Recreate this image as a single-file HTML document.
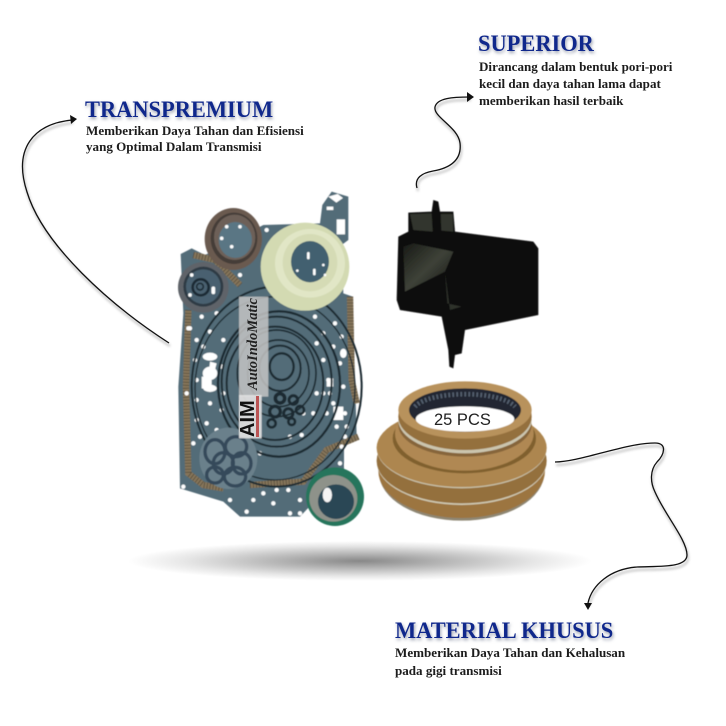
<!DOCTYPE html>
<html><head><meta charset="utf-8">
<style>
html,body{margin:0;padding:0;background:#fff}
#p{position:relative;width:726px;height:726px;overflow:hidden;background:#fff}
svg{position:absolute;left:0;top:0}
.h,.b{position:absolute;font-family:"Liberation Serif",serif;font-weight:bold;white-space:nowrap;transform-origin:0 0}
.h{color:#10288c;font-size:23px;line-height:28px;transform:scaleX(.975);text-shadow:1px 2px 3px rgba(70,80,110,.55)}
.b{color:#1c1c1c;font-size:13.07px;line-height:16px}
</style></head><body><div id="p">
<svg width="726" height="726" viewBox="0 0 726 726">
<defs>
<radialGradient id="sh" cx=".5" cy=".5" r=".5"><stop offset="0" stop-color="#888"/><stop offset=".35" stop-color="#b4b4b4"/><stop offset=".75" stop-color="#e6e6e6"/><stop offset="1" stop-color="#fff"/></radialGradient>
<linearGradient id="flt" x1="0" y1="0" x2="1" y2="1"><stop offset="0" stop-color="#181a16"/><stop offset=".5" stop-color="#3e4238"/><stop offset="1" stop-color="#111"/></linearGradient>
<filter id="s" x="-5%" y="-5%" width="110%" height="110%"><feGaussianBlur stdDeviation="1.6"/></filter>
<filter id="ls" x="-10%" y="-10%" width="120%" height="120%"><feGaussianBlur stdDeviation="1.2"/></filter>
</defs>

<ellipse cx="360" cy="561" rx="232" ry="20" fill="url(#sh)"/>

<!-- gasket -->
<g transform="translate(160,180) scale(.33333)" filter="url(#s)">
<path d="M62 222L95 205L135 225L310 135L480 130L487 75L515 35L565 50L565 180L545 195L550 340L578 350L590 770L552 780L552 870L420 1010L240 1010L190 965L60 925L55 620L70 400L65 290Z" fill="#536c78"/>
<path d="M100 225L165 240L240 315M85 390L78 620L85 880L130 915L190 925M270 915L430 905L500 810L595 770M570 350L575 600L590 670" fill="none" stroke="#85755a" stroke-width="19"/>
<path d="M100 225L165 240L240 315M85 390L78 620L85 880L130 915L190 925M270 915L430 905L500 810L595 770M570 350L575 600L590 670" fill="none" stroke="#4c4436" stroke-width="19" stroke-dasharray="2 7"/>
<path d="M90 445h0M125 410h0M170 400h0M150 455h0M110 480h0M130 500h0M105 540h0M110 600h0M190 480h0M185 560h0M190 640h0M110 660h0M150 670h0M185 690h0M110 720h0M140 730h0M170 750h0M465 410h0M525 430h0M490 460h0M545 470h0M470 490h0M520 500h0M490 540h0M540 550h0M505 600h0M550 620h0M520 670h0M555 700h0M530 740h0M555 770h0M570 825h0M560 855h0M210 960h0M260 995h0M390 1000h0M420 1000h0M70 920h0M320 150h0M385 930h0M460 920h0M240 285h0M85 445h0M145 800h0M120 770h0M460 700h0M470 640h0M430 700h0M300 820h0M390 770h0M425 765h0M500 700h0M510 640h0M490 640h0M100 790h0M80 640h0M560 740h0M545 800h0M540 850h0M350 930h0M310 940h0M420 960h0M280 960h0M340 970h0" fill="none" stroke="#fff" stroke-width="13" stroke-linecap="round"/>
<path d="M500 80h20v10h-20zM530 118h25v45h-25zM505 50l28-8 16 12-20 14zM150 545l20 5-8 30-15-5zM125 590l30 0 0 40-30-5zM520 680h30v40h-30zM500 595h20v25h-20z" fill="#fff"/>
<g fill="#fff"><ellipse cx="150" cy="530" rx="22" ry="12"/><ellipse cx="150" cy="580" rx="22" ry="20"/><ellipse cx="150" cy="625" rx="20" ry="11"/><ellipse cx="550" cy="520" rx="10" ry="14"/></g>
<g fill="none" stroke="#1b2b31">
<ellipse cx="350" cy="620" rx="255" ry="300" stroke-width="6"/>
<ellipse cx="345" cy="625" rx="240" ry="275" stroke-width="4"/>
<ellipse cx="357" cy="612" rx="183" ry="218" stroke-width="7"/>
<ellipse cx="350" cy="605" rx="165" ry="195" stroke-width="6"/>
<ellipse cx="345" cy="610" rx="145" ry="170" stroke-width="6"/>
<ellipse cx="350" cy="580" rx="118" ry="130" stroke-width="5"/>
<ellipse cx="355" cy="580" rx="92" ry="100" stroke-width="5"/>
<ellipse cx="360" cy="565" rx="62" ry="68" stroke-width="6"/>
<ellipse cx="365" cy="560" rx="36" ry="40" stroke-width="7"/>
<circle cx="345" cy="695" r="16" stroke-width="10"/><circle cx="385" cy="700" r="14" stroke-width="9"/><circle cx="360" cy="655" r="14" stroke-width="11"/><circle cx="400" cy="660" r="13" stroke-width="9"/><circle cx="335" cy="730" r="12" stroke-width="8"/><circle cx="395" cy="725" r="10" stroke-width="8"/><circle cx="420" cy="690" r="12" stroke-width="8"/>
</g>
<!-- brown seal -->
<ellipse cx="220" cy="177" rx="86" ry="93" fill="#6a5a50"/>
<ellipse cx="222" cy="175" rx="70" ry="77" fill="#453c37"/>
<ellipse cx="224" cy="172" rx="62" ry="68" fill="#6d6058"/>
<ellipse cx="226" cy="180" rx="50" ry="54" fill="#5a7684"/>
<path d="M185 175h0M200 140h0M240 140h0M215 200h0" stroke="#fff" stroke-width="11" stroke-linecap="round"/>
<!-- blue seal -->
<circle cx="130" cy="322" r="76" fill="#5e6469"/>
<circle cx="130" cy="320" r="60" fill="#2f3b44"/>
<circle cx="130" cy="320" r="52" fill="#486170"/>
<circle cx="122" cy="322" r="24" fill="none" stroke="#1d2c34" stroke-width="8"/>
<circle cx="120" cy="320" r="10" fill="none" stroke="#1d2c34" stroke-width="5"/>
<path d="M160 325v12M95 285h0M90 345h0" stroke="#fff" stroke-width="11" stroke-linecap="round"/>
<!-- pale seal -->
<ellipse cx="435" cy="260" rx="133" ry="132" fill="#d3dab2"/>
<ellipse cx="450" cy="250" rx="105" ry="103" fill="#e1e6c6"/>
<ellipse cx="450" cy="248" rx="82" ry="86" fill="#d5dbb5"/>
<ellipse cx="450" cy="245" rx="57" ry="62" fill="#436170"/>
<path d="M445 220v14M463 270v12M412 272h0M495 285h0M490 255h0" stroke="#fff" stroke-width="8" stroke-linecap="round"/>
<!-- o-rings -->
<ellipse cx="205" cy="835" rx="87" ry="92" fill="#6a808b"/>
<g fill="none" stroke="#34485a" stroke-width="10">
<ellipse cx="165" cy="815" rx="30" ry="36"/><ellipse cx="228" cy="800" rx="32" ry="30"/><ellipse cx="190" cy="850" rx="30" ry="32"/><ellipse cx="245" cy="850" rx="28" ry="32"/><ellipse cx="225" cy="890" rx="32" ry="28"/><ellipse cx="165" cy="885" rx="25" ry="24"/>
</g>
<!-- green seal -->
<ellipse cx="525" cy="950" rx="87" ry="88" fill="#26755b"/>
<ellipse cx="520" cy="955" rx="72" ry="70" fill="#8e928a"/>
<ellipse cx="528" cy="965" rx="54" ry="52" fill="#2a4654"/>
<ellipse cx="502" cy="945" rx="14" ry="22" fill="#f4f4f4"/>
<!-- watermark -->
<rect x="237" y="350" width="88" height="300" fill="#c4c4c4" opacity=".85"/>
<rect x="237" y="645" width="68" height="130" fill="#dedede" opacity=".95"/>
</g>
<text transform="translate(257,390) rotate(-90)" font-family="Liberation Serif,serif" font-style="italic" font-weight="bold" font-size="15" fill="#222" textLength="92" lengthAdjust="spacingAndGlyphs">AutoIndoMatic</text>
<text transform="translate(254,437) rotate(-90)" font-family="Liberation Sans,sans-serif" font-weight="bold" font-size="20" fill="#111">AIM</text>
<rect x="256" y="396" width="3" height="41" fill="#b55"/>

<!-- filter -->
<g transform="translate(370,190) scale(.33333)" filter="url(#s)">
<path d="M85 140L115 125L115 68L185 65L190 30L205 35L210 65L250 65L255 125L490 155L505 175L505 375L285 420L275 490L255 495L250 535L238 530L235 480L215 380L90 360L80 330Z" fill="#0c0c0c"/>
<path d="M130 160L250 185L225 245L105 305L100 170Z" fill="url(#flt)"/>
<path d="M120 72L185 70L188 125L130 120ZM212 72L248 72L250 125L214 122Z" fill="#33362f"/>
<path d="M225 245L232 340L275 350L240 360Z" fill="#2e302a"/>
</g>

<!-- clutch -->
<g transform="translate(370,190) scale(.33333)" filter="url(#s)">
<ellipse cx="275" cy="848" rx="248" ry="144" fill="#8e8672"/>
<ellipse cx="275" cy="842" rx="250" ry="142" fill="#9c7440"/>
<ellipse cx="275" cy="815" rx="255" ry="130" fill="#cfc9b2"/>
<ellipse cx="275" cy="812" rx="255" ry="128" fill="#94703c"/>
<ellipse cx="275" cy="775" rx="255" ry="120" fill="#c9c2aa"/>
<ellipse cx="275" cy="773" rx="255" ry="118" fill="#ad8650"/>
<ellipse cx="283" cy="745" rx="215" ry="105" fill="#80602f"/>
<ellipse cx="283" cy="730" rx="208" ry="112" fill="#b08852"/>
<ellipse cx="285" cy="705" rx="200" ry="95" fill="#86653a"/>
<ellipse cx="285" cy="690" rx="200" ry="100" fill="#cbc5ae"/>
<ellipse cx="285" cy="680" rx="200" ry="100" fill="#94703c"/>
<ellipse cx="285" cy="660" rx="200" ry="86" fill="#b8925c"/>
<ellipse cx="285" cy="660" rx="168" ry="65" fill="#232831"/>
<path d="M135 650C180 600 390 600 435 650" fill="none" stroke="#556070" stroke-width="14" stroke-dasharray="5 7"/>
<ellipse cx="285" cy="687" rx="148" ry="38" fill="#fff"/>
</g>
<text x="434" y="425" font-family="Liberation Sans,sans-serif" font-size="16.5" fill="#222">25 PCS</text>

<!-- connector shadows -->
<g fill="none" stroke="#888" stroke-width="2" opacity=".5" filter="url(#ls)" transform="translate(1,3)">
<path d="M417 188C414 178 422 173 433 171C450 168 462 160 460 143C458 127 433 117 435 107C437 98 453 97 470 97"/>
<path d="M169 343C110 305 43 245 27 192C13 149 33 124 72 120"/>
<path d="M555 462C580 462 625 443 655 443C668 443 664 455 657 462C650 470 650 482 655 492C665 515 687 540 687 555C687 568 660 566 637 567C610 569 592 585 588 603"/>
</g>
<!-- connectors -->
<g fill="none" stroke="#111" stroke-width="1.3">
<path d="M417 188C414 178 422 173 433 171C450 168 462 160 460 143C458 127 433 117 435 107C437 98 453 97 470 97"/>
<path d="M169 343C110 305 43 245 27 192C13 149 33 124 72 120"/>
<path d="M555 462C580 462 625 443 655 443C668 443 664 455 657 462C650 470 650 482 655 492C665 515 687 540 687 555C687 568 660 566 637 567C610 569 592 585 588 603"/>
</g>
<path d="M467 92L474 97L467 102Z" fill="#111"/>
<path d="M70 115L77 119L71 124Z" fill="#111"/>
<path d="M584 603L592 603L588 610Z" fill="#111"/>
</svg>

<div class="h" style="left:85px;top:96px">TRANSPREMIUM</div>
<div class="b" style="left:86px;top:123px">Memberikan Daya Tahan dan Efisiensi<br>yang Optimal Dalam Transmisi</div>

<div class="h" style="left:478px;top:30px">SUPERIOR</div>
<div class="b" style="left:479px;top:58px;line-height:17px">Dirancang dalam bentuk pori-pori<br>kecil dan daya tahan lama dapat<br>memberikan hasil terbaik</div>

<div class="h" style="left:395px;top:617px">MATERIAL KHUSUS</div>
<div class="b" style="left:395px;top:644px;line-height:18px">Memberikan Daya Tahan dan Kehalusan<br>pada gigi transmisi</div>
</div></body></html>
